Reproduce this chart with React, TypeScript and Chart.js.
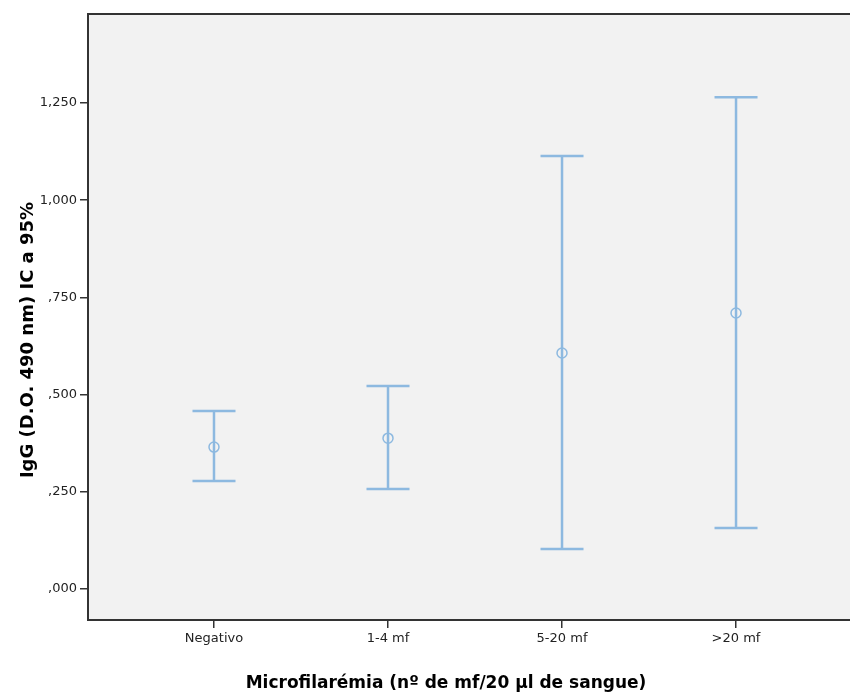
import React, { useEffect, useRef } from "react";
import { Chart, registerables } from "chart.js";

Chart.register(...registerables);

const categories = ["Negativo", "1-4 mf", "5-20 mf", ">20 mf"];
const meanValues = [0.365, 0.388, 0.607, 0.71];
const lowerValues = [0.278, 0.257, 0.103, 0.157];
const upperValues = [0.458, 0.522, 1.114, 1.265];
const yTickValues = [0, 0.25, 0.5, 0.75, 1.0, 1.25];
const yTickLabels = [",000", ",250", ",500", ",750", "1,000", "1,250"];
const xTitle = "Microfilarémia (nº de mf/20 µl de sangue)";
const yTitle = "IgG (D.O. 490 nm) IC a 95%";

const BAR_COLOR = "rgb(141,185,224)";
const FONT = "'DejaVu Sans', sans-serif";

const framePlugin = {
  id: "frameAndBars",
  beforeDatasetsDraw(chart: any) {
    const { ctx, chartArea, scales } = chart;
    const { left, right, top, bottom } = chartArea;
    ctx.save();
    ctx.fillStyle = "#f2f2f2";
    ctx.fillRect(left, top, right - left, bottom - top);
    ctx.strokeStyle = BAR_COLOR;
    ctx.lineWidth = 2.5;
    const capHalf = 21.5;
    categories.forEach((_, i) => {
      const x = scales.x.getPixelForValue(i);
      const yLo = scales.y.getPixelForValue(lowerValues[i]);
      const yHi = scales.y.getPixelForValue(upperValues[i]);
      ctx.beginPath();
      ctx.moveTo(x, yLo);
      ctx.lineTo(x, yHi);
      ctx.moveTo(x - capHalf, yLo);
      ctx.lineTo(x + capHalf, yLo);
      ctx.moveTo(x - capHalf, yHi);
      ctx.lineTo(x + capHalf, yHi);
      ctx.stroke();
    });
    ctx.restore();
  },
  afterDraw(chart: any) {
    const { ctx, chartArea } = chart;
    const { left, right, top, bottom } = chartArea;
    ctx.save();
    ctx.strokeStyle = "#333333";
    ctx.lineWidth = 2;
    ctx.beginPath();
    ctx.moveTo(right, top);
    ctx.lineTo(left, top);
    ctx.lineTo(left, bottom);
    ctx.lineTo(right, bottom);
    ctx.stroke();
    ctx.fillStyle = "#000";
    ctx.font = `bold 17px ${FONT}`;
    ctx.textAlign = "center";
    ctx.textBaseline = "middle";
    ctx.fillText(xTitle, 446, 684);
    ctx.translate(28, 340);
    ctx.rotate(-Math.PI / 2);
    ctx.font = `bold 18px ${FONT}`;
    ctx.fillText(yTitle, 0, 0);
    ctx.restore();
  },
};

export default function App() {
  const ref = useRef<HTMLCanvasElement>(null);
  useEffect(() => {
    if (!ref.current) return;
    const chart = new Chart(ref.current, {
      type: "scatter",
      data: {
        datasets: [
          {
            data: categories.map((_, i) => ({ x: i, y: meanValues[i] })),
            pointStyle: "circle",
            pointRadius: 5,
            pointHoverRadius: 5,
            pointBorderWidth: 1.5,
            pointBorderColor: BAR_COLOR,
            pointBackgroundColor: "rgba(0,0,0,0)",
            showLine: false,
          },
        ],
      },
      options: {
        responsive: false,
        animation: false,
        devicePixelRatio: 1,
        layout: { autoPadding: false, padding: { top: 14, right: 0, left: 0, bottom: 0 } },
        plugins: {
          legend: { display: false },
          tooltip: { enabled: false },
          title: { display: false },
        },
        scales: {
          x: {
            type: "linear",
            min: -0.7241,
            max: 3.655,
            afterBuildTicks: (scale: any) => {
              scale.ticks = categories.map((_, i) => ({ value: i }));
            },
            afterFit: (scale: any) => {
              scale.height = 73;
              scale.paddingLeft = 0;
              scale.paddingRight = 0;
            },
            ticks: {
              autoSkip: false,
              maxRotation: 0,
              padding: 3,
              color: "#222",
              font: { family: FONT, size: 13 },
              callback: (v: any) => categories[Math.round(Number(v))] ?? "",
            },
            grid: {
              drawOnChartArea: false,
              drawTicks: true,
              tickLength: 8,
              color: "#333",
              lineWidth: 1.5,
            },
            border: { display: false },
          },
          y: {
            type: "linear",
            min: -0.0797,
            max: 1.4789,
            afterBuildTicks: (scale: any) => {
              scale.ticks = yTickValues.map((v) => ({ value: v }));
            },
            afterFit: (scale: any) => {
              scale.width = 88;
              scale.paddingTop = 0;
              scale.paddingBottom = 0;
            },
            ticks: {
              autoSkip: false,
              padding: 3,
              color: "#222",
              font: { family: FONT, size: 13 },
              callback: (v: any) => {
                const idx = yTickValues.findIndex((t) => Math.abs(t - Number(v)) < 1e-6);
                return idx >= 0 ? yTickLabels[idx] : "";
              },
            },
            grid: {
              drawOnChartArea: false,
              drawTicks: true,
              tickLength: 8,
              color: "#333",
              lineWidth: 1.5,
            },
            border: { display: false },
          },
        },
      },
      plugins: [framePlugin],
    } as any);
    return () => chart.destroy();
  }, []);
  return (
    <div style={{ position: "absolute", left: 0, top: 0, width: 850, height: 693, background: "#fff" }}>
      <canvas ref={ref} width={850} height={693} style={{ display: "block" }} />
    </div>
  );
}
